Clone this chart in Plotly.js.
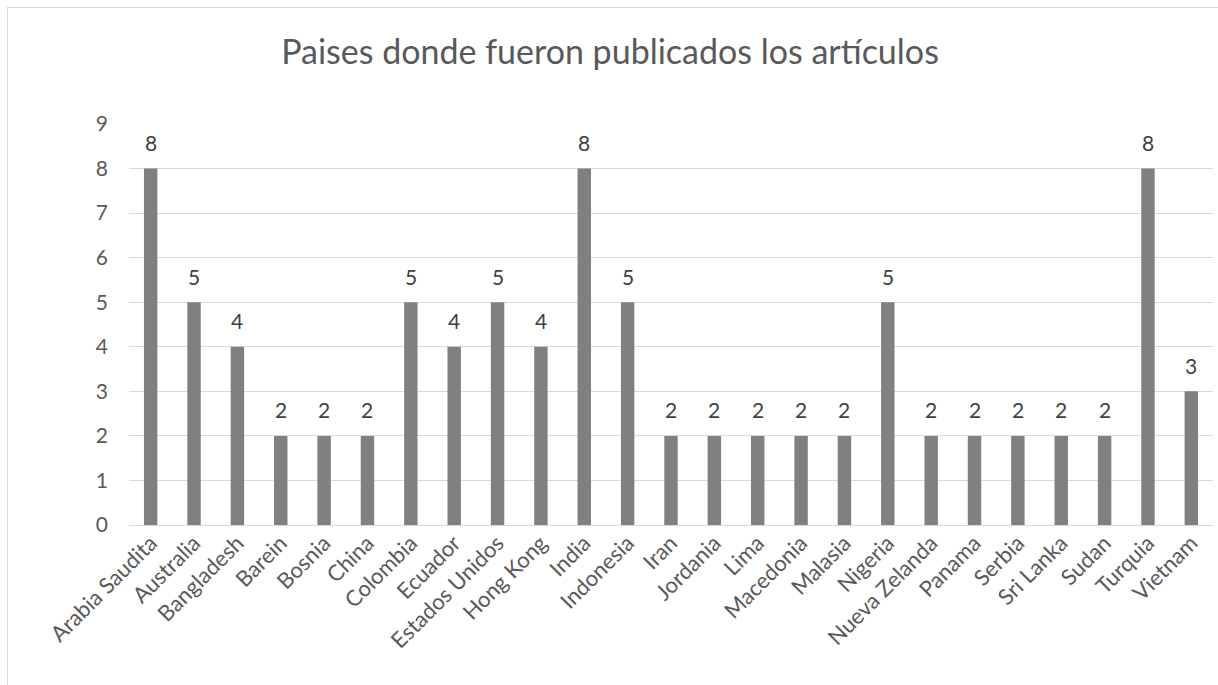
<!DOCTYPE html>
<html>
<head>
<meta charset="utf-8">
<script src="https://cdn.plot.ly/plotly-3.0.1.min.js"></script>
<style>
  html, body { margin: 0; padding: 0; background: #ffffff; }
  #frame { position: absolute; left: 7px; top: 7px; width: 1400px; height: 900px; border: 1px solid #d9d9d9; box-sizing: border-box; }
  #chart { position: absolute; left: 0; top: 0; width: 1218px; height: 685px; }
</style>
</head>
<body>
<div id="frame"></div>
<div id="chart"></div>
<script>
const paises = ["Arabia Saudita", "Australia", "Bangladesh", "Barein", "Bosnia", "China", "Colombia", "Ecuador", "Estados Unidos", "Hong Kong", "India", "Indonesia", "Iran", "Jordania", "Lima", "Macedonia", "Malasia", "Nigeria", "Nueva Zelanda", "Panama", "Serbia", "Sri Lanka", "Sudan", "Turquia", "Vietnam"];
const articulos = [8, 5, 4, 2, 2, 2, 5, 4, 5, 4, 8, 5, 2, 2, 2, 2, 2, 5, 2, 2, 2, 2, 2, 8, 3];
const yTicks = [0, 1, 2, 3, 4, 5, 6, 7, 8, 9];
const titulo = "Paises donde fueron publicados los artículos";

const FONT = "Lato, 'Open Sans', sans-serif";

const trace = {
  type: "bar",
  x: paises,
  y: articulos,
  marker: { color: "#808080" },
  hoverinfo: "x+y"
};

const annotations = paises.map((p, i) => ({
  x: p, y: articulos[i], xref: "x", yref: "y",
  text: String(articulos[i]), showarrow: false,
  yanchor: "middle", yshift: 26,
  font: { family: FONT, size: 21, color: "#404040" }
}));

const layout = {
  width: 1218, height: 685,
  paper_bgcolor: "rgba(0,0,0,0)",
  plot_bgcolor: "rgba(0,0,0,0)",
  margin: { l: 129, r: 5, t: 124, b: 160 },
  bargap: 0.69,
  showlegend: false,
  title: {
    text: titulo,
    x: 610 / 1218, xref: "container", xanchor: "center",
    y: 1 - 52 / 685, yref: "container", yanchor: "middle",
    font: { family: FONT, size: 34, color: "#595959" }
  },
  xaxis: {
    type: "category",
    tickangle: -45,
    tickfont: { family: FONT, size: 22, color: "#595959" },
    showgrid: false,
    showline: false,
    ticks: "",
    automargin: false
  },
  yaxis: {
    range: [0, 9],
    tickvals: yTicks,
    ticktext: yTicks.map(String),
    tickfont: { family: FONT, size: 21, color: "#595959" },
    ticklabelstandoff: 20,
    showgrid: true,
    gridcolor: "#d9d9d9",
    gridwidth: 1,
    zeroline: true,
    zerolinecolor: "#d9d9d9",
    zerolinewidth: 1,
    showline: false,
    ticks: "",
    ticklen: 0,
    automargin: false
  },
  annotations: annotations,
  font: { family: FONT }
};

Plotly.newPlot("chart", [trace], layout, { displayModeBar: false, staticPlot: true });
</script>
</body>
</html>
